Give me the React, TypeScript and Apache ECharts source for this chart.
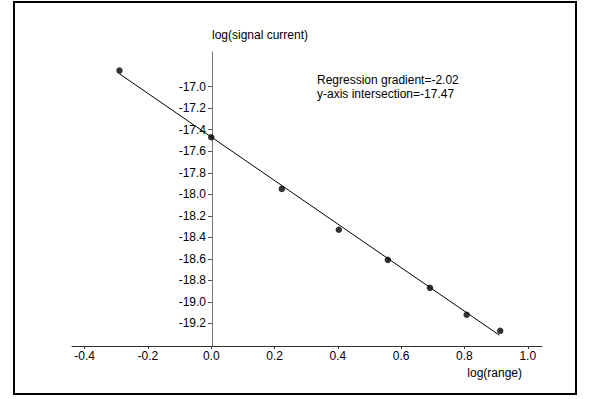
import React, { useEffect, useRef } from "react";
import * as echarts from "echarts";

const logRange = [-0.29, 0.0, 0.223, 0.403, 0.558, 0.691, 0.807, 0.913];
const logSignal = [-16.85, -17.47, -17.95, -18.33, -18.61, -18.87, -19.12, -19.27];
const fitX = [-0.29, 0.91];
const fitY = [-16.88, -19.31];
const xTicks = [-0.4, -0.2, 0.0, 0.2, 0.4, 0.6, 0.8, 1.0];
const yTicks = [-17.0, -17.2, -17.4, -17.6, -17.8, -18.0, -18.2, -18.4, -18.6, -18.8, -19.0, -19.2];
const annotation = ["Regression gradient=-2.02", "y-axis intersection=-17.47"];

const FONT = "Arial, 'Liberation Sans', sans-serif";

export default function App() {
  const ref = useRef<HTMLDivElement>(null);
  useEffect(() => {
    if (!ref.current) return;
    const chart = echarts.init(ref.current, undefined, { renderer: "svg" });
    chart.setOption({
      animation: false,
      backgroundColor: "#fff",
      grid: { left: 72, right: 48, top: 52, bottom: 53, containLabel: false },
      xAxis: {
        type: "value",
        min: -0.44,
        max: 1.045,
        name: "log(range)",
        nameLocation: "end",
        nameGap: 0,
        nameTextStyle: {
          fontFamily: FONT,
          fontSize: 12,
          color: "#000",
          align: "right",
          verticalAlign: "top",
          padding: [21, 20, 0, 0],
        },
        splitLine: { show: false },
        axisLine: { show: true, onZero: false, lineStyle: { color: "#333", width: 1 } },
        axisTick: { show: true, length: 3, customValues: xTicks, lineStyle: { color: "#333" } },
        axisLabel: {
          customValues: xTicks,
          formatter: (v: number) => v.toFixed(1),
          fontFamily: FONT,
          fontSize: 12,
          color: "#000",
          margin: 4,
        },
      },
      yAxis: {
        type: "value",
        position: "left",
        offset: -140,
        min: -19.411,
        max: -16.677,
        name: "log(signal current)",
        nameLocation: "end",
        nameGap: 11,
        nameTextStyle: { fontFamily: FONT, fontSize: 12, color: "#000", align: "left" },
        splitLine: { show: false },
        axisLine: { show: true, onZero: false, lineStyle: { color: "#777", width: 1 } },
        axisTick: { show: true, length: 4, customValues: yTicks, lineStyle: { color: "#555" } },
        axisLabel: {
          customValues: yTicks,
          formatter: (v: number) => v.toFixed(1),
          fontFamily: FONT,
          fontSize: 12,
          color: "#000",
          margin: 6,
        },
      },
      series: [
        {
          type: "line",
          data: fitX.map((x, i) => [x, fitY[i]]),
          showSymbol: false,
          symbol: "none",
          lineStyle: { color: "#000", width: 1 },
          silent: true,
          z: 2,
        },
        {
          type: "scatter",
          data: logRange.map((x, i) => [x, logSignal[i]]),
          symbol: "circle",
          symbolSize: 6.5,
          itemStyle: { color: "#000" },
          z: 3,
        },
      ],
      graphic: [
        {
          type: "rect",
          shape: { x: 14, y: 2, width: 562, height: 392 },
          style: { fill: "none", stroke: "#000", lineWidth: 2 },
          z: 10,
        },
        ...annotation.map((t, i) => ({
          type: "text",
          left: 317,
          top: 74 + i * 14,
          style: {
            text: t,
            fontFamily: FONT,
            fontSize: 12,
            fill: "#000",
          },
        })),
      ],
    });
    return () => chart.dispose();
  }, []);
  return (
    <div
      ref={ref}
      style={{ position: "absolute", left: 0, top: 0, width: 590, height: 399 }}
    />
  );
}
